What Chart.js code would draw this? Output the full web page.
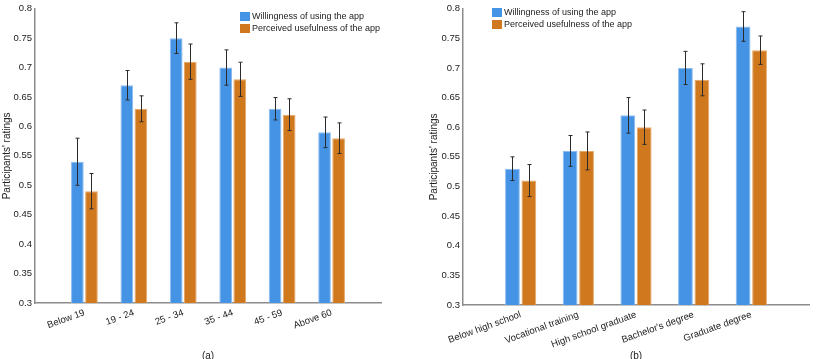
<!DOCTYPE html>
<html>
<head>
<meta charset="utf-8">
<script src="https://cdn.jsdelivr.net/npm/chart.js@4.4.1/dist/chart.umd.min.js"></script>
<style>
    html, body { margin: 0; padding: 0; background: #fff; }
    body { width: 822px; height: 359px; position: relative; overflow: hidden; }
    .panel { position: absolute; top: 0; height: 359px; }
    #panelA { left: 0; width: 408px; }
    #panelB { left: 410px; width: 412px; }
</style>
</head>
<body>
<div class="panel" id="panelA"><canvas id="chartA"></canvas></div>
<div class="panel" id="panelB"><canvas id="chartB"></canvas></div>
<script>
const seriesNames = ["Willingness of using the app", "Perceived usefulness of the app"];
const yTickValues = [0.3, 0.35, 0.4, 0.45, 0.5, 0.55, 0.6, 0.65, 0.7, 0.75, 0.8];

// (a) age groups
const ageGroups = ["Below 19", "19 - 24", "25 - 34", "35 - 44", "45 - 59", "Above 60"];
const ageWilling = [0.54, 0.67, 0.75, 0.70, 0.63, 0.59];
const ageUseful = [0.49, 0.63, 0.71, 0.68, 0.62, 0.58];
const ageWillingErr = [0.04, 0.025, 0.026, 0.03, 0.019, 0.026];
const ageUsefulErr = [0.03, 0.022, 0.03, 0.029, 0.027, 0.026];

// (b) education
const eduLevels = ["Below high school", "Vocational training", "High school graduate", "Bachelor's degree", "Graduate degree"];
const eduWilling = [0.53, 0.56, 0.62, 0.70, 0.77];
const eduUseful = [0.51, 0.56, 0.60, 0.68, 0.73];
const eduWillingErr = [0.02, 0.026, 0.03, 0.028, 0.025];
const eduUsefulErr = [0.027, 0.032, 0.029, 0.027, 0.024];

const FONT = "'Liberation Sans', Arial, Helvetica, sans-serif";

const errorBars = {
    id: "errorBars",
    afterDatasetsDraw(chart) {
        const ctx = chart.ctx;
        const yScale = chart.scales.y;
        ctx.save();
        ctx.strokeStyle = "#2b2b2b";
        ctx.lineWidth = 1;
        chart.data.datasets.forEach((ds, i) => {
            const meta = chart.getDatasetMeta(i);
            meta.data.forEach((bar, j) => {
                const v = ds.data[j];
                const e = ds.errors[j];
                if (v == null || e == null) return;
                const x = Math.round(bar.x) + 0.5;
                const top = yScale.getPixelForValue(v + e);
                const bottom = yScale.getPixelForValue(v - e);
                ctx.beginPath();
                ctx.moveTo(x, top);
                ctx.lineTo(x, bottom);
                ctx.moveTo(x - 2, top);
                ctx.lineTo(x + 2, top);
                ctx.moveTo(x - 2, bottom);
                ctx.lineTo(x + 2, bottom);
                ctx.stroke();
            });
        });
        ctx.restore();
    }
};

// small legend drawn inside the plot area
const cornerLegend = {
    id: "cornerLegend",
    afterDraw(chart, args, opts) {
        const ctx = chart.ctx;
        ctx.save();
        ctx.font = "9px " + FONT;
        ctx.textBaseline = "middle";
        chart.data.datasets.forEach((ds, i) => {
            const y = opts.y + i * 12;
            ctx.fillStyle = ds.backgroundColor;
            ctx.fillRect(opts.x, y, 10, 9);
            ctx.fillStyle = "#222";
            ctx.fillText(ds.label, opts.x + 12, y + 4.5);
        });
        ctx.restore();
    }
};

function makeChart(canvasId, categories, willing, useful, willingErr, usefulErr, caption, lay) {
    // blank slot at each end, like the original axis
    const labels = ["", ...categories, ""];
    const pad = arr => [null, ...arr, null];
    const ctx = document.getElementById(canvasId).getContext("2d");
    return new Chart(ctx, {
        type: "bar",
        data: {
            labels: labels,
            datasets: [
                {
                    label: seriesNames[0],
                    data: pad(willing),
                    errors: pad(willingErr),
                    backgroundColor: "#4593e4",
                    borderColor: "#8bbcef",
                    borderWidth: 1,
                },
                {
                    label: seriesNames[1],
                    data: pad(useful),
                    errors: pad(usefulErr),
                    backgroundColor: "#d0781e",
                    borderColor: "#e4a868",
                    borderWidth: 1,
                },
            ],
        },
        options: {
            responsive: true,
            maintainAspectRatio: false,
            animation: false,
            categoryPercentage: 0.57,
            barPercentage: 0.9,
            layout: {
                padding: { left: lay.padLeft, right: lay.padRight, top: lay.padTop, bottom: 0 },
            },
            scales: {
                x: {
                    offset: false,
                    grid: { display: false, drawTicks: false },
                    border: { display: true, color: "#8c8c8c", width: 1.5 },
                    ticks: {
                        autoSkip: false,
                        minRotation: 20,
                        maxRotation: 20,
                        padding: 4,
                        color: "#222",
                        font: { family: FONT, size: 9.5 },
                    },
                    afterFit: function (scale) {
                        scale.height = lay.xHeight;
                    },
                },
                y: {
                    min: 0.3,
                    max: 0.8,
                    grid: { display: false, drawTicks: false },
                    border: { display: true, color: "#8c8c8c", width: 1.5 },
                    afterBuildTicks: function (axis) {
                        axis.ticks = yTickValues.map(v => ({ value: v }));
                    },
                    ticks: {
                        padding: 3,
                        color: "#222",
                        font: { family: FONT, size: 9.5 },
                        callback: v => String(+v.toFixed(2)),
                    },
                    title: {
                        display: true,
                        text: "Participants' ratings",
                        color: "#222",
                        font: { family: FONT, size: 10 },
                        padding: { top: 1, bottom: 0 },
                    },
                    afterFit: function (scale) {
                        scale.width = lay.yWidth;
                    },
                },
            },
            plugins: {
                legend: { display: false },
                tooltip: { enabled: false },
                title: {
                    display: true,
                    text: caption,
                    position: "bottom",
                    fullSize: false,
                    color: "#222",
                    font: { family: FONT, size: 10, weight: "normal" },
                    padding: { top: 0, bottom: -3 },
                },
                cornerLegend: { x: lay.legendX, y: lay.legendY },
            },
        },
        plugins: [errorBars, cornerLegend],
    });
}

makeChart("chartA", ageGroups, ageWilling, ageUseful, ageWillingErr, ageUsefulErr, "(a)",
    { padLeft: 0, padRight: 27, padTop: 7, yWidth: 35, xHeight: 47, legendX: 240, legendY: 12 });
makeChart("chartB", eduLevels, eduWilling, eduUseful, eduWillingErr, eduUsefulErr, "(b)",
    { padLeft: 17, padRight: 13, padTop: 8, yWidth: 36, xHeight: 45, legendX: 82, legendY: 8 });
</script>
</body>
</html>
